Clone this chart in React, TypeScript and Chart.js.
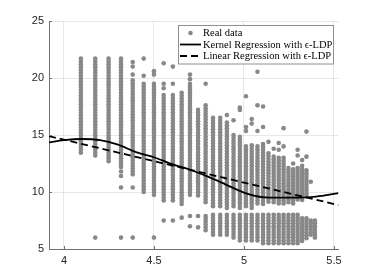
import React, { useEffect, useRef } from "react";
import { Chart, registerables } from "chart.js";

Chart.register(...registerables);

// ---- data ----
const seriesLabels = [
  "Real data",
  "Kernel Regression with \u03F5-LDP",
  "Linear Regression with \u03F5-LDP",
];

const xTicks = [4, 4.5, 5, 5.5];
const yTicks = [5, 10, 15, 20, 25];

// x positions of the data columns
const columnX = [
  4.094, 4.174, 4.248, 4.317, 4.382, 4.443, 4.5, 4.554, 4.605, 4.654, 4.7,
  4.745, 4.787, 4.828, 4.868, 4.905, 4.942, 4.977, 5.011, 5.043, 5.075, 5.106,
  5.136, 5.165, 5.193, 5.22, 5.247, 5.273, 5.298, 5.323, 5.347, 5.371, 5.394,
];

// runs of observed y values per column: [low, high] (single values have low == high)
const columnRuns: number[][][] = [
  [[13.3, 21.7]],
  [[13.0, 21.7], [6.0, 6.0]],
  [[12.6, 21.7]],
  [[12.2, 21.7], [11.8, 11.8], [11.4, 11.4], [10.4, 10.4], [6.0, 6.0]],
  [[21.4, 21.4], [21.0, 21.0], [20.3, 20.3], [11.4, 19.8], [10.4, 10.4], [6.0, 6.0]],
  [[21.7, 21.7], [20.2, 20.2], [9.9, 19.5]],
  [[20.6, 20.6], [20.3, 20.3], [9.6, 19.5], [6.0, 6.0]],
  [[21.3, 21.3], [19.5, 19.5], [19.1, 19.1], [9.2, 18.5], [7.5, 7.5]],
  [[21.0, 21.0], [19.5, 19.5], [9.1, 18.5], [7.5, 7.5]],
  [[8.9, 18.7], [7.75, 7.75]],
  [[20.3, 20.3], [19.9, 19.9], [9.6, 19.5], [7.9, 7.9], [7.0, 7.0]],
  [[9.6, 17.2], [7.9, 7.9], [6.9, 6.9]],
  [[19.5, 19.5], [9.0, 17.6], [6.5, 7.9]],
  [[8.7, 16.5], [6.1, 8.0]],
  [[8.6, 16.5], [6.1, 8.0]],
  [[16.75, 16.75], [8.6, 16.1], [6.1, 8.0]],
  [[16.3, 16.3], [8.7, 15.0], [5.8, 8.0]],
  [[17.4, 17.4], [17.2, 17.2], [8.6, 14.85], [5.6, 8.0]],
  [[18.4, 18.4], [15.7, 15.7], [15.35, 15.35], [8.6, 14.0], [5.6, 8.0]],
  [[16.4, 16.4], [16.0, 16.0], [8.6, 14.1], [5.6, 8.0]],
  [[20.55, 20.55], [17.6, 17.6], [15.35, 15.35], [8.8, 14.0], [5.6, 8.0]],
  [[17.5, 17.5], [15.7, 15.7], [8.9, 14.2], [5.4, 8.0]],
  [[14.4, 14.4], [9.0, 13.4], [5.4, 8.0]],
  [[13.8, 13.8], [9.0, 13.1], [5.4, 8.0]],
  [[14.3, 14.3], [13.7, 13.7], [9.0, 13.0], [5.4, 8.0]],
  [[15.6, 15.6], [14.0, 14.0], [8.9, 13.0], [5.4, 8.0]],
  [[8.9, 12.1], [5.4, 8.0]],
  [[12.5, 12.5], [9.0, 12.0], [5.4, 8.0]],
  [[13.7, 13.7], [13.2, 13.2], [9.3, 12.1], [5.4, 8.0]],
  [[12.8, 12.8], [9.3, 12.3], [5.6, 7.7]],
  [[15.3, 15.3], [13.1, 13.1], [9.6, 11.9], [5.8, 7.7]],
  [[10.9, 10.9], [6.2, 7.5]],
  [[5.8, 7.5]],
];
const yStep = 0.25;

const kernelX = [3.917, 4.0, 4.1, 4.2, 4.3, 4.4, 4.5, 4.6, 4.7, 4.8, 4.9, 5.0, 5.05, 5.1, 5.2, 5.3, 5.4, 5.525];
const kernelY = [14.35, 14.55, 14.65, 14.55, 14.15, 13.5, 13.05, 12.45, 11.95, 11.35, 10.65, 9.95, 9.7, 9.55, 9.5, 9.5, 9.6, 9.9];

const linearX = [3.917, 5.525];
const linearY = [14.9, 8.85];

// ---- styles ----
const GREY_DOT = "#888888";
const TEXT = "#262626";
const AXIS = "#707070";
const GRID = "rgba(0,0,0,0.09)";

const legendPlugin = {
  id: "boxLegend",
  afterDraw(chart: any) {
    const ctx = chart.ctx as CanvasRenderingContext2D;
    const ds = chart.data.datasets;
    const order = [2, 0, 1]; // Real data, Kernel, Linear
    const bx = 178.5, by = 25.5, bw = 155, bh = 38.5;
    ctx.save();
    ctx.fillStyle = "#ffffff";
    ctx.fillRect(bx, by, bw, bh);
    ctx.strokeStyle = "#909090";
    ctx.lineWidth = 1;
    ctx.strokeRect(bx, by, bw, bh);
    ctx.font = '10.5px "Liberation Serif", "DejaVu Serif", serif';
    ctx.textBaseline = "middle";
    ctx.textAlign = "left";
    order.forEach((di, row) => {
      const d = ds[di];
      const cy = 33 + row * 11.5;
      if (di === 2) {
        ctx.fillStyle = GREY_DOT;
        ctx.beginPath();
        ctx.arc(190.5, cy, 2.3, 0, Math.PI * 2);
        ctx.fill();
      } else {
        ctx.strokeStyle = "#000";
        ctx.lineWidth = 1.8;
        ctx.setLineDash(d.borderDash || []);
        ctx.beginPath();
        ctx.moveTo(180, cy);
        ctx.lineTo(201, cy);
        ctx.stroke();
        ctx.setLineDash([]);
      }
      ctx.fillStyle = "#000";
      ctx.fillText(d.label, 203, cy + 0.5);
    });
    ctx.restore();
  },
};

const innerTickPlugin = {
  id: "innerTicks",
  afterDraw(chart: any) {
    const ctx = chart.ctx as CanvasRenderingContext2D;
    const { left, bottom } = chart.chartArea;
    const xs = chart.scales.x, ys = chart.scales.y;
    ctx.save();
    ctx.strokeStyle = AXIS;
    ctx.lineWidth = 1;
    ctx.beginPath();
    xTicks.forEach((v) => {
      const p = Math.round(xs.getPixelForValue(v)) + 0.5;
      ctx.moveTo(p, bottom);
      ctx.lineTo(p, bottom - 3);
    });
    yTicks.forEach((v) => {
      const p = Math.round(ys.getPixelForValue(v)) + 0.5;
      ctx.moveTo(left, p);
      ctx.lineTo(left + 3, p);
    });
    ctx.stroke();
    ctx.restore();
  },
};

export default function App() {
  const ref = useRef<HTMLCanvasElement>(null);

  useEffect(() => {
    if (!ref.current) return;
    const scatterPts: { x: number; y: number }[] = [];
    columnX.forEach((x, i) => {
      columnRuns[i].forEach(([lo, hi]) => {
        for (let y = hi; y >= lo - 1e-6; y -= yStep) {
          scatterPts.push({ x, y: Math.round(y * 100) / 100 });
        }
      });
    });
    const kernelPts = kernelX.map((x, i) => ({ x, y: kernelY[i] }));
    const linearPts = linearX.map((x, i) => ({ x, y: linearY[i] }));

    const tickFont = { family: '"Liberation Sans", Arial, sans-serif', size: 11 };

    const chart = new Chart(ref.current, {
      type: "scatter",
      data: {
        datasets: [
          {
            label: seriesLabels[1],
            data: kernelPts,
            showLine: true,
            borderColor: "#000",
            borderWidth: 1.8,
            pointRadius: 0,
            cubicInterpolationMode: "monotone",
            order: 1,
          } as any,
          {
            label: seriesLabels[2],
            data: linearPts,
            showLine: true,
            borderColor: "#000",
            borderWidth: 1.8,
            borderDash: [7, 4],
            pointRadius: 0,
            order: 2,
          } as any,
          {
            label: seriesLabels[0],
            data: scatterPts,
            pointRadius: 2.3,
            pointBackgroundColor: GREY_DOT,
            backgroundColor: GREY_DOT,
            pointBorderWidth: 0,
            borderWidth: 0,
            order: 3,
          } as any,
        ],
      },
      options: {
        responsive: false,
        animation: false,
        events: [],
        layout: { padding: { top: 21, right: 35.5, left: 0, bottom: 0 } },
        plugins: {
          legend: { display: false },
          tooltip: { enabled: false },
        },
        scales: {
          x: {
            type: "linear",
            min: 3.917,
            max: 5.525,
            afterBuildTicks: (s: any) => {
              s.ticks = xTicks.map((v) => ({ value: v }));
            },
            afterFit: (s: any) => {
              s.height = 31;
            },
            grid: { color: GRID, drawTicks: false },
            border: { color: AXIS, width: 1 },
            ticks: {
              padding: 5,
              color: TEXT,
              font: tickFont,
              callback: (v: any) => String(v),
            },
          },
          y: {
            type: "linear",
            min: 5,
            max: 25,
            afterBuildTicks: (s: any) => {
              s.ticks = yTicks.map((v) => ({ value: v }));
            },
            afterFit: (s: any) => {
              s.width = 49;
            },
            grid: { color: GRID, drawTicks: false },
            border: { color: AXIS, width: 1 },
            ticks: {
              padding: 5,
              color: TEXT,
              font: tickFont,
              callback: (v: any) => String(v),
            },
          },
        },
      } as any,
      plugins: [innerTickPlugin, legendPlugin],
    });
    return () => chart.destroy();
  }, []);

  return (
    <div style={{ position: "absolute", left: 0, top: 0, width: 374, height: 280, background: "#fff" }}>
      <canvas ref={ref} width={374} height={280} style={{ display: "block", width: 374, height: 280 }} />
    </div>
  );
}
